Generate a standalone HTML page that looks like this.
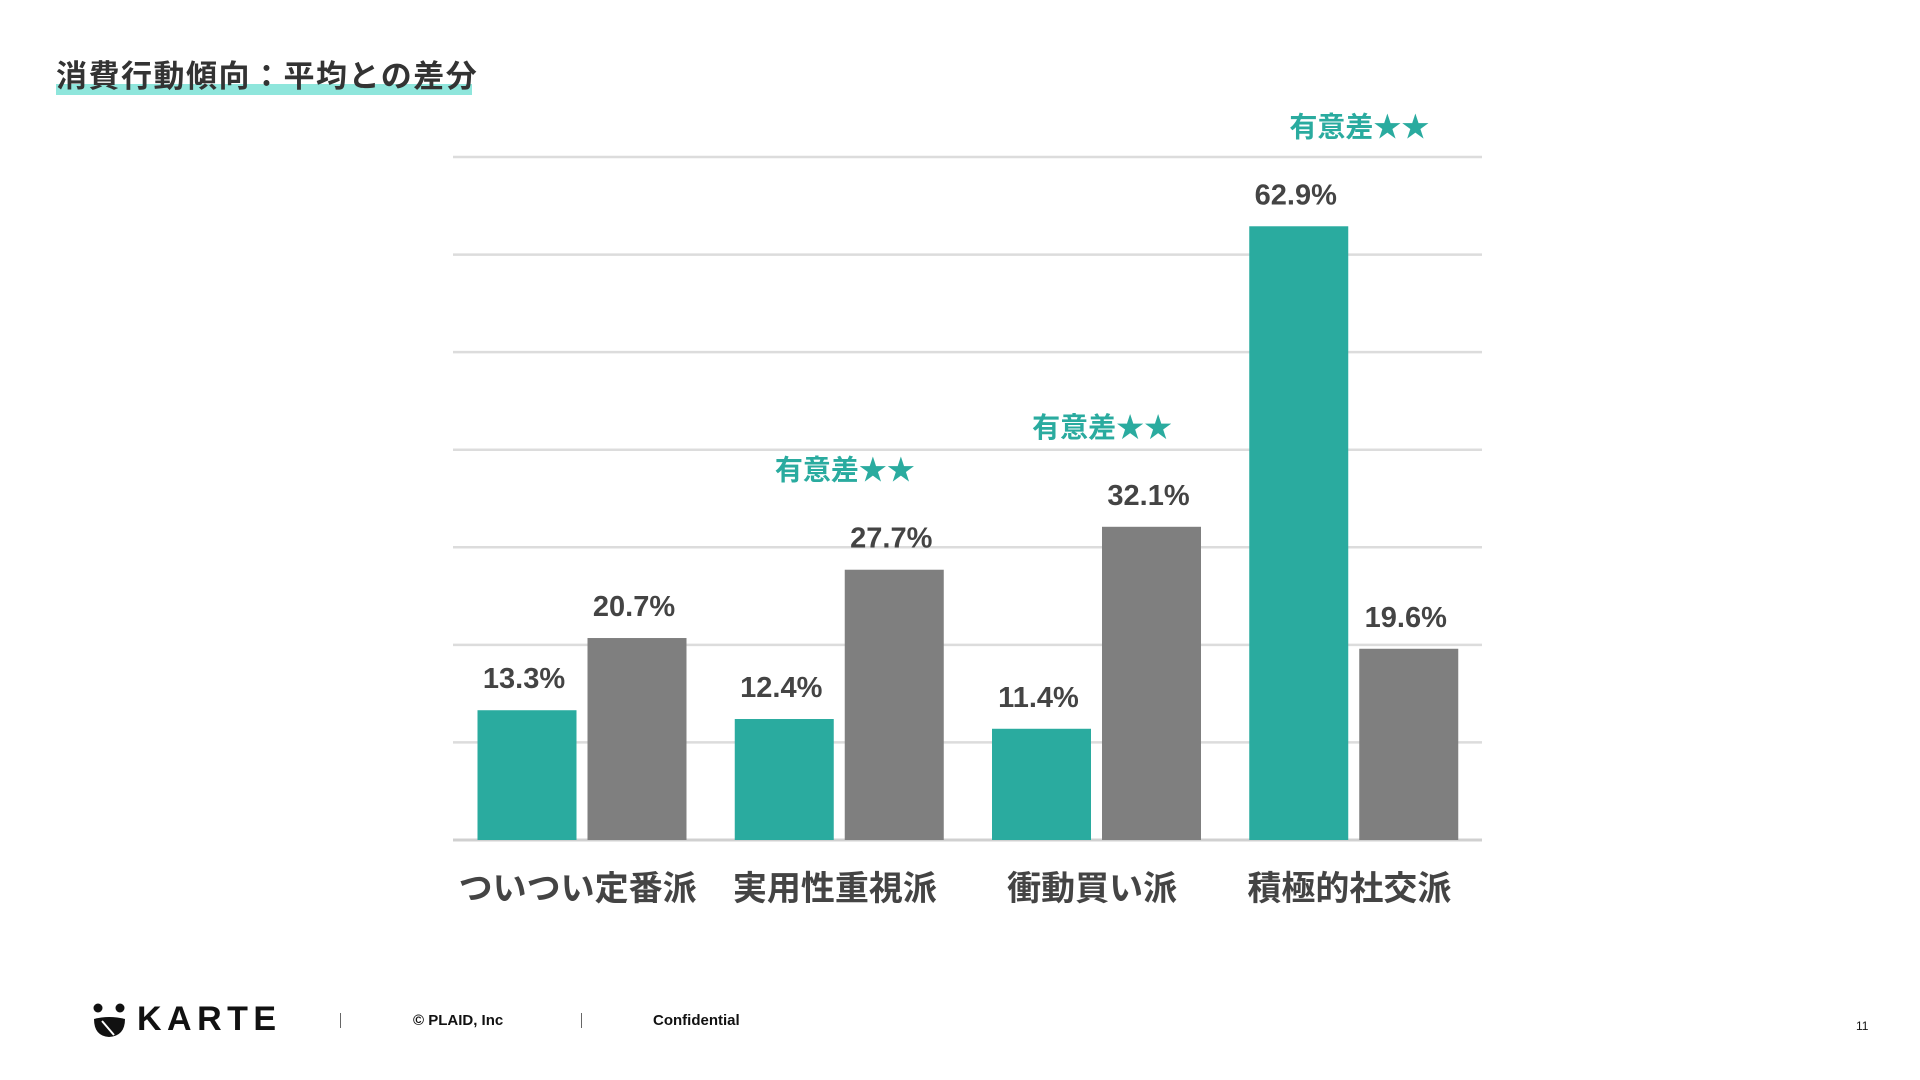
<!DOCTYPE html>
<html><head><meta charset="utf-8">
<style>
html,body{margin:0;padding:0;background:#fff;}
body{width:1920px;height:1080px;position:relative;overflow:hidden;font-family:"Liberation Sans","Noto Sans CJK JP",sans-serif;}
.title{position:absolute;left:56px;top:51px;font-size:31px;font-weight:bold;color:#333;letter-spacing:1.5px;z-index:2;}
.hl{position:absolute;left:56px;top:84px;width:416px;height:11px;background:#8fe6dc;z-index:1;}
svg{position:absolute;left:0;top:0;}
.ft{position:absolute;font-family:"Liberation Sans",sans-serif;font-weight:bold;color:#111;}
</style></head>
<body>
<div class="hl"></div>
<div class="title">消費行動傾向：平均との差分</div>
<svg id="chart" width="1920" height="1080"></svg>

<div style="position:absolute;left:92px;top:1003px;width:200px;height:36px;">
  <svg width="40" height="36" style="position:absolute;left:0;top:0;">
    <circle cx="6" cy="5" r="4.5" fill="#111"/><circle cx="28" cy="5" r="4.5" fill="#111"/>
    <path d="M2 16 Q17 12 33 16 Q33 33 17 34 Q2 33 2 16Z" fill="#111"/>
    <line x1="10" y1="18" x2="22" y2="32" stroke="#fff" stroke-width="2"/>
  </svg>
  <div class="ft" style="left:45px;top:-3px;font-size:34px;letter-spacing:5.5px;font-weight:bold;">KARTE</div>
</div>
<div style="position:absolute;left:340px;top:1013px;width:1px;height:15px;background:#666;"></div>
<div class="ft" style="left:413px;top:1012px;font-size:15px;">© PLAID, Inc</div>
<div style="position:absolute;left:581px;top:1013px;width:1px;height:15px;background:#666;"></div>
<div class="ft" style="left:653px;top:1012px;font-size:15px;">Confidential</div>
<div class="ft" style="left:1856px;top:1019px;font-size:12px;font-weight:normal;">11</div>

<script>
const categories = ["ついつい定番派","実用性重視派","衝動買い派","積極的社交派"];
const segmentValues = [13.3, 12.4, 11.4, 62.9];
const averageValues = [20.7, 27.7, 32.1, 19.6];
const significant = [false, true, true, true];
const valueLabels1 = ["13.3%","12.4%","11.4%","62.9%"];
const valueLabels2 = ["20.7%","27.7%","32.1%","19.6%"];
const gridTicks = [0,10,20,30,40,50,60,70];

const NS="http://www.w3.org/2000/svg";
const svg=document.getElementById('chart');
const X0=453, X1=1482, Y0=840, YTOP=157, VMAX=70;
const band=(X1-X0)/categories.length;
const y=v=>Y0-(Y0-YTOP)*v/VMAX;
const bx=(i,s)=>X0+i*band+24.5+s*110;
const BW=99;
const FONT='"Liberation Sans","Noto Sans CJK JP",sans-serif';
function mk(tag,attrs){const e=document.createElementNS(NS,tag);for(const k in attrs)e.setAttribute(k,attrs[k]);svg.appendChild(e);return e;}

gridTicks.forEach(t=>{
  const l=mk('line',{x1:X0,x2:X1,y1:y(t),y2:y(t),stroke:t===0?'#d0d0d0':'#dcdcdc','stroke-width':t===0?3:2.5});
  
  
});

categories.forEach((c,i)=>{
  const vals=[segmentValues[i],averageValues[i]];
  const labs=[valueLabels1[i],valueLabels2[i]];
  vals.forEach((v,s)=>{
    const r=mk('rect',{x:bx(i,s),y:y(v),width:BW,height:Y0-y(v),fill:s===0?'#2aab9f':'#7f7f7f'});
    
    
    const t=mk('text',{x:bx(i,s)+BW/2-3,y:y(v)-22,'text-anchor':'middle','font-size':29,'font-weight':'bold',fill:'#444','font-family':FONT});
    t.textContent=labs[s];
    
    
  });
  if(significant[i]){
    const m=Math.max(vals[0],vals[1]);
    const t=mk('text',{x:X0+i*band+band/2+6,y:y(m)-90,'text-anchor':'middle','font-size':28,'font-weight':'bold',fill:'#2aab9f','font-family':FONT});
    t.textContent='有意差★★';
    
    
  }
  const ct=mk('text',{x:X0+i*band+band/2-4,y:900,'text-anchor':'middle','font-size':34,'font-weight':'bold',fill:'#444','font-family':FONT});
  ct.textContent=c;
  
  
});
</script>
</body></html>
